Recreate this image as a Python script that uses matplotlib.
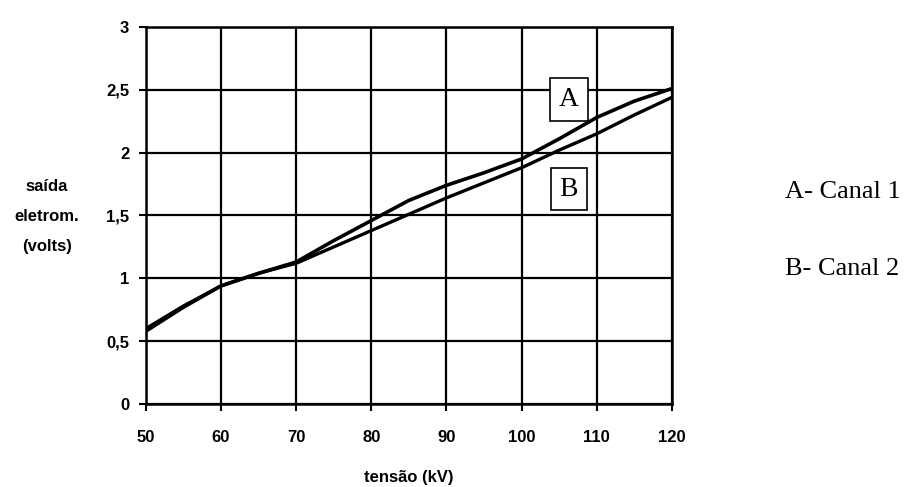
import matplotlib
matplotlib.use("Agg")
import matplotlib.pyplot as plt

tensao = [50, 55, 60, 65, 70, 75, 80, 85, 90, 95, 100, 105, 110, 115, 120]
canal_1 = [0.58, 0.77, 0.94, 1.04, 1.13, 1.30, 1.46, 1.62, 1.74, 1.84, 1.95, 2.11, 2.28, 2.41, 2.51]
canal_2 = [0.60, 0.78, 0.94, 1.04, 1.12, 1.25, 1.38, 1.51, 1.64, 1.76, 1.88, 2.02, 2.15, 2.30, 2.44]

x_ticks = [50, 60, 70, 80, 90, 100, 110, 120]
y_ticks = [0, 0.5, 1, 1.5, 2, 2.5, 3]
y_labels = ["0", "0,5", "1", "1,5", "2", "2,5", "3"]

fig = plt.figure(figsize=(9.06, 4.87), dpi=100)
ax = fig.add_axes([0.161, 0.1704, 0.5806, 0.7742])

ax.plot(tensao, canal_1, color="black", linewidth=2.6, solid_capstyle="butt")
ax.plot(tensao, canal_2, color="black", linewidth=2.4, solid_capstyle="butt")

ax.set_xlim(50, 120)
ax.set_ylim(0, 3)
ax.set_xticks(x_ticks)
ax.set_yticks(y_ticks)
ax.set_yticklabels(y_labels)
ax.grid(True, color="black", linewidth=1.6)
ax.set_axisbelow(True)
for s in ax.spines.values():
    s.set_linewidth(1.8)
ax.tick_params(axis="y", direction="out", length=5, width=1.5, pad=7)
ax.tick_params(axis="x", direction="out", length=5, width=1.5, pad=14)
for lab in ax.get_xticklabels() + ax.get_yticklabels():
    lab.set_fontfamily("Liberation Sans")
    lab.set_fontweight("bold")
    lab.set_fontsize(12)

ax.set_xlabel("tensão (kV)", fontfamily="Liberation Sans", fontweight="bold",
              fontsize=12, labelpad=18)
fig.text(0.052, 0.556, "saída\neletrom.\n(volts)", ha="center", va="center",
         fontfamily="Liberation Sans", fontweight="bold", fontsize=12,
         linespacing=2.25)

box = dict(boxstyle="square,pad=0.32", facecolor="white", edgecolor="black", linewidth=1.2)
ax.text(106.3, 2.42, "A", ha="center", va="center", fontfamily="Liberation Serif",
        fontsize=20, bbox=box)
ax.text(106.3, 1.71, "B", ha="center", va="center", fontfamily="Liberation Serif",
        fontsize=20, bbox=box)

fig.text(0.866, 0.606, "A- Canal 1", ha="left", va="center",
         fontfamily="Liberation Serif", fontsize=19)
fig.text(0.866, 0.447, "B- Canal 2", ha="left", va="center",
         fontfamily="Liberation Serif", fontsize=19)

fig.savefig("out.png", dpi=100)
